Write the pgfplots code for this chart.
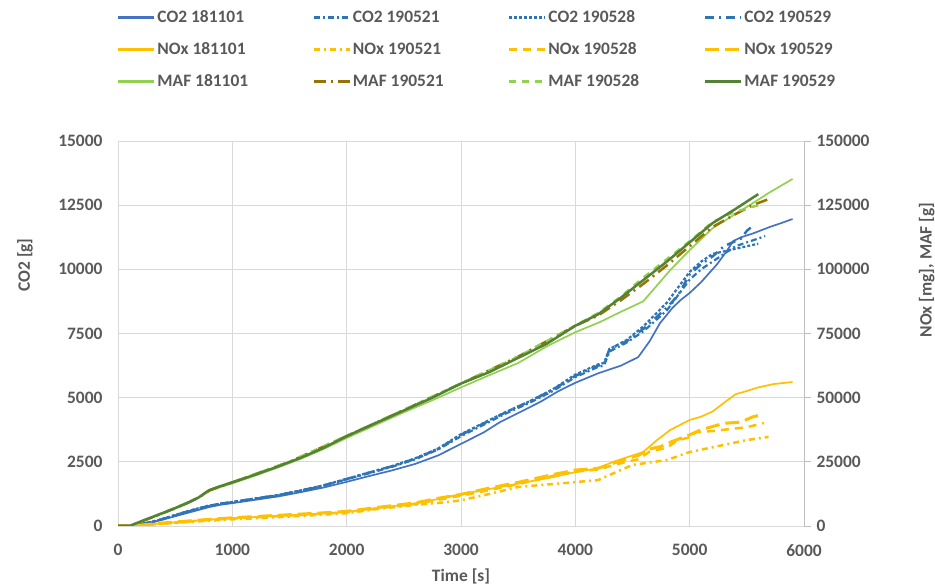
\documentclass[border=0pt]{standalone}
\usepackage{pgfplots}
\pgfplotsset{compat=1.18}
\usepackage{fontspec}
\setmainfont{Carlito}
\definecolor{txt}{HTML}{595959}
\definecolor{grd}{HTML}{D9D9D9}
\definecolor{axl}{HTML}{BFBFBF}
\definecolor{coa}{HTML}{4472C4}
\definecolor{cob}{HTML}{2E75B6}
\definecolor{nox}{HTML}{FFC000}
\definecolor{mafl}{HTML}{92D050}
\definecolor{mafo}{HTML}{997300}
\definecolor{mafd}{HTML}{548235}
\tikzset{
 sCOa/.style={draw=coa, line width=1.7bp},
 sCOb/.style={draw=cob, line width=2.2bp, dash pattern=on 6bp off 3bp on 2bp off 3bp},
 sCOc/.style={draw=cob, line width=2.2bp, dash pattern=on 3bp off 2bp},
 sCOd/.style={draw=cob, line width=2.5bp, dash pattern=on 9bp off 5bp on 2bp off 5bp},
 sNOa/.style={draw=nox, line width=1.7bp},
 sNOb/.style={draw=nox, line width=2.5bp, dash pattern=on 6bp off 4bp on 2bp off 4bp},
 sNOc/.style={draw=nox, line width=2.5bp, dash pattern=on 8bp off 6bp},
 sNOd/.style={draw=nox, line width=3bp, dash pattern=on 14bp off 6bp},
 sMAa/.style={draw=mafl, line width=1.7bp},
 sMAb/.style={draw=mafo, line width=2.5bp, dash pattern=on 12bp off 5bp on 2bp off 5bp},
 sMAc/.style={draw=mafl, line width=2.2bp, dash pattern=on 7bp off 6bp},
 sMAd/.style={draw=mafd, line width=2.5bp},
}
\pgfplotsset{
 base/.style={
  scale only axis, width=686bp, height=385bp,
  at={(118bp,62bp)}, anchor=south west,
  xmin=0, xmax=6000,
  font=\fontsize{17.5}{20}\selectfont\bfseries\color{txt},
  /pgf/number format/assume math mode=true,
  /pgf/number format/fixed,
  /pgf/number format/precision=0,
  /pgf/number format/1000 sep={},
  scaled ticks=false,
  every axis plot/.append style={line join=round, line cap=butt},
  legend image code/.code={\draw[##1] (0bp,0bp) -- (36bp,0bp);},
 }
}
\begin{document}
\begin{tikzpicture}
\begin{axis}[base,
  ymin=0, ymax=15000,
  xtick={0,1000,...,6000},
  ytick={0,2500,...,15000},
  grid=major, major grid style={grd, line width=0.9bp},
  axis line style={draw=none},
  major tick length=0pt,
  yticklabel style={xshift=-12bp},
  xticklabel style={yshift=-15bp},
  xlabel={Time [s]},
  xlabel style={at={(axis description cs:0.5,-0.13)}, anchor=center},
  ylabel={CO2 [g]},
  ylabel style={at={(axis description cs:-0.1356,0.678)}, anchor=center},
]
\addplot[sCOa] coordinates {(0,0)(100,0)(200,60)(350,200)(500,380)(650,560)(800,740)(900,830)(1000,890)(1200,1020)(1400,1150)(1600,1320)(1800,1500)(2000,1720)(2200,1950)(2400,2170)(2600,2420)(2800,2750)(3000,3200)(3200,3650)(3342,4050)(3500,4400)(3700,4850)(3850,5250)(4000,5580)(4200,5950)(4400,6250)(4550,6580)(4650,7200)(4740,7900)(4850,8500)(4920,8800)(5000,9080)(5100,9500)(5240,10200)(5330,10750)(5380,11100)(5450,11250)(5555,11400)(5700,11650)(5800,11800)(5900,11960)};
\addplot[sCOb] coordinates {(0,0)(100,0)(200,70)(350,210)(500,410)(650,610)(800,780)(900,860)(1000,920)(1200,1060)(1400,1190)(1600,1370)(1800,1570)(2000,1820)(2200,2060)(2400,2310)(2600,2600)(2800,2980)(3000,3500)(3200,3950)(3400,4400)(3600,4800)(3800,5250)(4000,5800)(4200,6200)(4250,6250)(4300,6800)(4450,7150)(4600,7600)(4800,8400)(5000,9600)(5100,10000)(5200,10300)(5300,10600)(5400,10900)(5500,11050)(5600,11200)(5660,11300)};
\addplot[sCOc] coordinates {(0,0)(100,0)(200,75)(350,225)(500,430)(650,630)(800,800)(900,875)(1000,935)(1200,1075)(1400,1210)(1600,1390)(1800,1590)(2000,1840)(2200,2090)(2400,2340)(2600,2640)(2800,3020)(3000,3580)(3200,4020)(3400,4460)(3600,4860)(3800,5320)(4000,5900)(4200,6300)(4250,6350)(4300,6900)(4450,7250)(4600,7800)(4800,8700)(5000,9900)(5100,10300)(5200,10600)(5300,10700)(5400,10800)(5500,10900)(5600,11000)};
\addplot[sCOd] coordinates {(0,0)(100,0)(200,70)(350,220)(500,420)(650,620)(800,790)(900,870)(1000,930)(1200,1070)(1400,1200)(1600,1380)(1800,1580)(2000,1830)(2200,2080)(2400,2330)(2600,2620)(2800,3000)(3000,3550)(3200,4000)(3400,4450)(3600,4850)(3800,5300)(4000,5850)(4200,6250)(4250,6300)(4300,6900)(4450,7200)(4600,7700)(4800,8500)(4900,9000)(5000,9800)(5100,10200)(5200,10500)(5300,10900)(5400,11100)(5450,11200)(5500,11500)(5555,11700)};
\end{axis}
\begin{axis}[base,
  ymin=0, ymax=150000,
  ytick={0,25000,...,150000},
  axis x line=none,
  axis y line*=right,
  axis line style={axl, line width=0.9bp},
  tick align=outside,
  major tick length=7bp,
  y tick style={axl, line width=0.9bp},
  yticklabel style={xshift=2bp},
  ylabel={NOx [mg], MAF [g]},
  ylabel style={at={(axis description cs:1.179,0.665)}, anchor=center},
  legend columns=4,
  legend style={at={(axis description cs:-0.0015,1.347)}, anchor=north west,
    draw=none, fill=none, inner sep=0pt,
    font=\fontsize{17.5}{20}\selectfont\bfseries\color{txt},
    nodes={inner sep=2bp, text height=12.5bp, text depth=3.5bp},
    /tikz/every even column/.append style={column sep=13bp},
    row sep=12bp},
  legend cell align=left,
]
\addlegendimage{sCOa, line width=2.3bp}\addlegendentry{\makebox[140bp][l]{CO2 181101}}
\addlegendimage{sCOb}\addlegendentry{\makebox[140bp][l]{CO2 190521}}
\addlegendimage{sCOc}\addlegendentry{\makebox[140bp][l]{CO2 190528}}
\addlegendimage{sCOd}\addlegendentry{\makebox[140bp][l]{CO2 190529}}
\addlegendimage{sNOa, line width=2.3bp}\addlegendentry{\makebox[140bp][l]{NOx 181101}}
\addlegendimage{sNOb}\addlegendentry{\makebox[140bp][l]{NOx 190521}}
\addlegendimage{sNOc}\addlegendentry{\makebox[140bp][l]{NOx 190528}}
\addlegendimage{sNOd}\addlegendentry{\makebox[140bp][l]{NOx 190529}}
\addlegendimage{sMAa, line width=2.3bp}\addlegendentry{\makebox[140bp][l]{MAF 181101}}
\addlegendimage{sMAb}\addlegendentry{\makebox[140bp][l]{MAF 190521}}
\addlegendimage{sMAc}\addlegendentry{\makebox[140bp][l]{MAF 190528}}
\addlegendimage{sMAd}\addlegendentry{\makebox[140bp][l]{MAF 190529}}
\addplot[sNOa, forget plot] coordinates {(0,0)(100,0)(200,300)(400,1100)(600,1800)(800,2500)(1000,3100)(1250,3600)(1500,4200)(1750,4800)(2000,5500)(2300,7200)(2600,8800)(2800,10500)(3000,12500)(3200,14000)(3500,16500)(3800,19000)(4000,21000)(4200,22500)(4330,25000)(4593,28800)(4715,33500)(4830,37400)(5000,41300)(5100,42600)(5200,44600)(5300,48000)(5400,51300)(5500,52600)(5600,54000)(5735,55300)(5900,56100)};
\addplot[sNOb, forget plot] coordinates {(0,0)(100,0)(200,250)(400,900)(600,1500)(800,2100)(1000,2600)(1250,3100)(1500,3700)(1750,4300)(2000,5000)(2300,6800)(2600,8200)(2877,9300)(3000,10000)(3250,12500)(3500,15200)(4000,17100)(4200,17900)(4300,19900)(4500,23800)(4800,25700)(5000,28800)(5300,31600)(5500,33500)(5690,34700)};
\addplot[sNOc, forget plot] coordinates {(0,0)(100,0)(200,300)(400,1000)(600,1700)(800,2400)(1000,2900)(1250,3500)(1500,4100)(1750,4700)(2000,5300)(2300,7000)(2600,8600)(2800,10200)(3000,11800)(3250,14000)(3500,16300)(3800,19500)(4000,21200)(4200,22000)(4400,24500)(4550,26000)(4650,29000)(4800,30500)(4900,33500)(5000,34500)(5050,36500)(5200,37000)(5400,38000)(5500,38500)(5650,40100)};
\addplot[sNOd, forget plot] coordinates {(0,0)(100,0)(200,350)(400,1200)(600,1900)(800,2600)(1000,3200)(1250,3800)(1500,4400)(1750,5000)(2000,5700)(2300,7400)(2600,9000)(2800,10800)(3000,12300)(3250,14800)(3500,17000)(3800,20000)(4000,21800)(4200,22500)(4400,25500)(4550,27500)(4650,30000)(4750,31000)(4850,33000)(5000,35500)(5100,37500)(5300,40000)(5450,40500)(5550,42500)(5620,43200)};
\addplot[sMAa, forget plot] coordinates {(0,0)(100,0)(200,1600)(300,3300)(400,5000)(500,6800)(600,8600)(700,10800)(800,13600)(900,15200)(1000,16600)(1200,19600)(1400,22800)(1600,26200)(1800,30000)(2000,34300)(2250,39300)(2500,44300)(2750,49000)(3000,54000)(3250,58800)(3500,63500)(3750,70000)(4000,75500)(4217,79500)(4400,83500)(4593,87500)(4700,93000)(4830,99700)(5000,107500)(5200,116000)(5500,124300)(5700,130000)(5900,135200)};
\addplot[sMAb, forget plot] coordinates {(0,0)(100,0)(300,3400)(500,6900)(700,10900)(800,13900)(1000,17000)(1500,25000)(2000,35000)(2500,45200)(3000,55500)(3500,66000)(4000,78000)(4200,82000)(4400,88000)(4600,94500)(4800,101500)(5000,109000)(5200,116500)(5400,121500)(5550,125000)(5700,127500)};
\addplot[sMAc, forget plot] coordinates {(0,0)(100,0)(300,3500)(500,7100)(700,11100)(800,14100)(1000,17100)(1500,25100)(2000,35200)(2500,45300)(3000,55600)(3500,66000)(4000,78200)(4200,83000)(4400,89500)(4600,97000)(4800,104000)(5000,111000)(5200,118500)(5400,122500)(5650,125500)};
\addplot[sMAd, forget plot] coordinates {(0,0)(100,0)(200,1800)(300,3500)(400,5200)(500,7000)(600,8800)(700,11000)(800,14000)(900,15600)(1000,17000)(1200,20000)(1400,23200)(1600,26600)(1800,30500)(2000,35000)(2250,40000)(2500,45000)(2750,50000)(3000,55500)(3250,60000)(3500,65500)(3750,71000)(4000,78000)(4200,82500)(4400,89000)(4600,96000)(4800,103000)(5000,110500)(5200,118000)(5400,123500)(5600,129300)};
\end{axis}
\pgfresetboundingbox
\path[use as bounding box] (0bp,0bp) rectangle (935bp,588bp);
\end{tikzpicture}
\end{document}
